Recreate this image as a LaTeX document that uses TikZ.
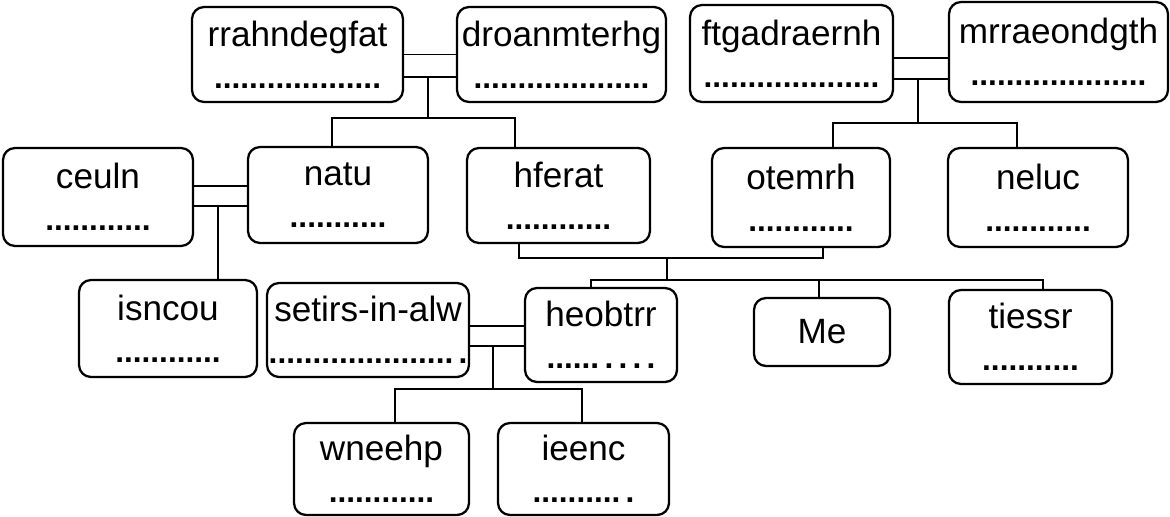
\documentclass[tikz,border=0pt]{standalone}
\usepackage{fontspec}
\setmainfont{Liberation Sans}
\usepackage{tikz}

\newcommand\dotrow[1]{{\bfseries\fontsize{18}{24}\selectfont #1}}

\begin{document}
\begin{tikzpicture}[x=0.02cm,y=-0.02cm,
  pbox/.style={draw=black,line width=1.3pt,rounded corners=0.24cm,align=center,
    inner sep=0pt,font=\fontsize{20}{24}\selectfont},
  link/.style={line width=0.8pt}]
\useasboundingbox (0,0) rectangle (1170,517);

% top row
\node[pbox,minimum width=4.22cm,minimum height=1.9cm] (rrah) at (297.5,54.5) {rrahndegfat\\\dotrow{...................}};
\node[pbox,minimum width=4.18cm,minimum height=1.9cm] (droa) at (561.5,54.5) {droanmterhg\\\dotrow{....................}};
\node[pbox,minimum width=4.06cm,minimum height=1.94cm] (ftga) at (791.5,53.5) {ftgadraernh\\\dotrow{....................}};
\node[pbox,minimum width=4.38cm,minimum height=2cm] (mrra) at (1058.5,52) {mrraeondgth\\\dotrow{....................}};

% second row
\node[pbox,minimum width=3.8cm,minimum height=1.96cm] (ceul) at (98,197) {ceuln\\\dotrow{............}};
\node[pbox,minimum width=3.6cm,minimum height=1.92cm] (natu) at (338,195) {natu\\\dotrow{...........}};
\node[pbox,minimum width=3.66cm,minimum height=1.9cm] (hfer) at (558.5,195.5) {hferat\\\dotrow{............}};
\node[pbox,minimum width=3.56cm,minimum height=1.98cm] (otem) at (801,197.5) {otemrh\\\dotrow{............}};
\node[pbox,minimum width=3.6cm,minimum height=1.98cm] (neluc) at (1038,197.5) {neluc\\\dotrow{............}};

% third row
\node[pbox,minimum width=3.56cm,minimum height=1.94cm] (isnc) at (168,328.5) {isncou\\\dotrow{............}};
\node[pbox,minimum width=4.04cm,minimum height=1.88cm] (seti) at (368,330) {setirs-in-alw\\\dotrow{.....................\,.}};
\node[pbox,minimum width=3.04cm,minimum height=1.88cm] (heob) at (601,335) {heobtrr\\\dotrow{......\,.\,.\,.\,.}};
\node[pbox,minimum width=2.72cm,minimum height=1.36cm] (me) at (822,332) {Me};
\node[pbox,minimum width=3.26cm,minimum height=1.88cm] (ties) at (1030.5,337) {tiessr\\\dotrow{...........}};

% bottom row
\node[pbox,minimum width=3.5cm,minimum height=1.84cm] (wnee) at (381.5,469) {wneehp\\\dotrow{............}};
\node[pbox,minimum width=3.42cm,minimum height=1.84cm] (ieen) at (583.5,469) {ieenc\\\dotrow{..........\,.}};

% couples and children
\draw[link] (rrah.east) -- (droa.west);
\draw[link] (rrah.east |- 0,77) -- (droa.west |- 0,77);
\draw[link] (428,77) -- (428,118);
\draw[link] (natu.north -| 332,0) -- (332,118) -- (515,118) -- (hfer.north -| 515,0);

\draw[link] (ftga.east |- 0,58) -- (mrra.west |- 0,58);
\draw[link] (ftga.east |- 0,79) -- (mrra.west |- 0,79);
\draw[link] (918,79) -- (918,123);
\draw[link] (otem.north -| 833,0) -- (833,123) -- (1017,123) -- (neluc.north -| 1017,0);

\draw[link] (ceul.east |- 0,186) -- (natu.west |- 0,186);
\draw[link] (ceul.east |- 0,206) -- (natu.west |- 0,206);
\draw[link] (218,206) -- (isnc.north -| 218,0);

\draw[link] (hfer.south -| 519,0) -- (519,258) -- (823,258) -- (otem.south -| 823,0);
\draw[link] (667,258) -- (667,280);
\draw[link] (heob.north -| 591,0) -- (591,280) -- (1043,280) -- (ties.north -| 1043,0);
\draw[link] (819,280) -- (me.north -| 819,0);

\draw[link] (seti.east |- 0,326) -- (heob.west |- 0,326);
\draw[link] (seti.east |- 0,346) -- (heob.west |- 0,346);
\draw[link] (493,346) -- (493,389);
\draw[link] (wnee.north -| 395,0) -- (395,389) -- (582,389) -- (ieen.north -| 582,0);
\end{tikzpicture}
\end{document}
